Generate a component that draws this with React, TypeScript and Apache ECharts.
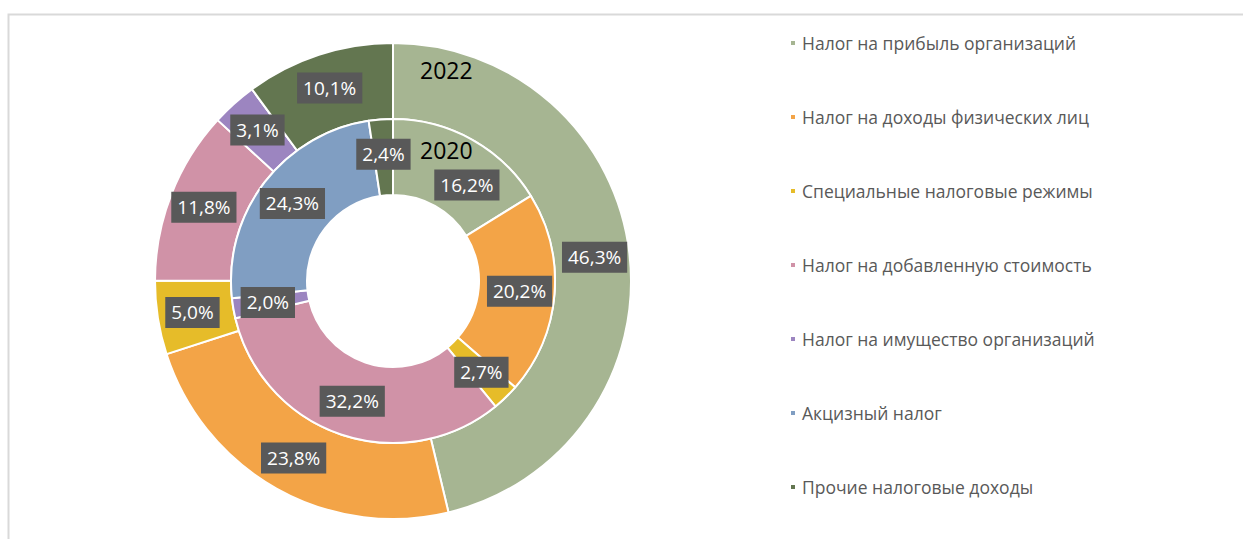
import React, { useEffect, useRef } from "react";
import * as echarts from "echarts";

const categories = [
  "Налог на прибыль организаций",
  "Налог на доходы физических лиц",
  "Специальные налоговые режимы",
  "Налог на добавленную стоимость",
  "Налог на имущество организаций",
  "Акцизный налог",
  "Прочие налоговые доходы",
];
const colors = ["#A6B592", "#F3A447", "#E6BC29", "#D092A7", "#9C85C0", "#809EC2", "#637650"];
const values2022 = [46.3, 23.8, 5.0, 11.8, 3.1, 0, 10.1];
const values2020 = [16.2, 20.2, 2.7, 32.2, 2.0, 24.3, 2.4];
const years = ["2022", "2020"];

const FONT = "'Open Sans', sans-serif";

const fmt = (v: number) => v.toFixed(1).replace(".", ",") + "%";

const labelStyle = {
  show: true,
  position: "inside",
  color: "#FFFFFF",
  fontFamily: FONT,
  fontSize: 19,
  lineHeight: 22,
  backgroundColor: "#595959",
  padding: [5, 6, 4, 6],
  formatter: (p: any) => fmt(p.value),
};

export default function App() {
  const ref = useRef<HTMLDivElement>(null);
  useEffect(() => {
    if (!ref.current) return;
    const chart = echarts.init(ref.current, undefined, { renderer: "svg" });
    const mk = (vals: number[], extra?: (i: number) => any) =>
      vals.map((v, i) => ({
        name: categories[i],
        value: v,
        itemStyle: { color: colors[i] },
        ...(v === 0 ? { label: { show: false } } : {}),
        ...(extra ? extra(i) : {}),
      }));
    chart.setOption({
      animation: false,
      backgroundColor: "#FFFFFF",
      legend: {
        orient: "vertical",
        left: 789,
        top: 33,
        padding: 0,
        icon: "rect",
        itemWidth: 6,
        itemHeight: 6,
        itemGap: 54,
        data: categories,
        textStyle: {
          color: "#595959",
          fontFamily: FONT,
          fontSize: 17.5,
          lineHeight: 20,
          padding: [0, 0, 0, 1],
        },
      },
      graphic: [
        {
          type: "rect",
          silent: true,
          z: 0,
          shape: { x: 8.5, y: 14.5, width: 1400, height: 700 },
          style: { fill: "none", stroke: "#D9D9D9", lineWidth: 2 },
        },
        {
          type: "text",
          z: 100,
          left: 420,
          top: 58,
          style: { text: years[0], fill: "#000000", font: `23px ${FONT}` },
        },
        {
          type: "text",
          z: 100,
          left: 420,
          top: 138,
          style: { text: years[1], fill: "#000000", font: `23px ${FONT}` },
        },
      ],
      series: [
        {
          name: years[0],
          type: "pie",
          center: [393, 281],
          radius: [162, 238],
          startAngle: 90,
          clockwise: true,
          avoidLabelOverlap: false,
          itemStyle: { borderColor: "#FFFFFF", borderWidth: 2 },
          label: labelStyle,
          labelLine: { show: false },
          data: mk(values2022),
        },
        {
          name: years[1],
          type: "pie",
          center: [393, 281],
          radius: [86, 162],
          startAngle: 90,
          clockwise: true,
          avoidLabelOverlap: false,
          itemStyle: { borderColor: "#FFFFFF", borderWidth: 2 },
          label: labelStyle,
          labelLine: { show: false },
          data: mk(values2020, (i) => (i === 0 ? { label: { offset: [12, 15] } } : {})),
        },
      ],
    });
    return () => chart.dispose();
  }, []);
  return (
    <div
      ref={ref}
      style={{ position: "fixed", left: 0, top: 0, width: 1243, height: 539 }}
    />
  );
}
